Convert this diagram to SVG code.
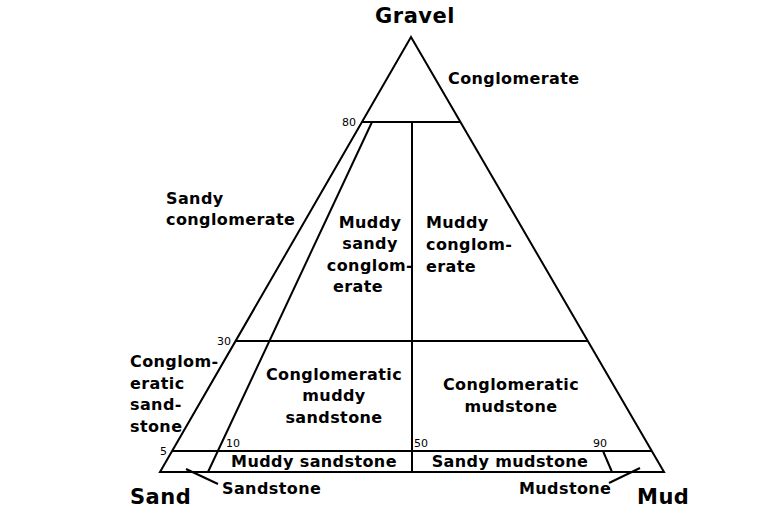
<svg xmlns="http://www.w3.org/2000/svg" width="768" height="511" viewBox="0 0 768 511">
<style>
.l{stroke:#000;stroke-width:2;fill:none}
.t{font-family:Verdana,"DejaVu Sans",sans-serif;font-weight:bold;font-size:16px;letter-spacing:0.4px;fill:#000}
.c{text-anchor:middle}
.n{font-family:Verdana,"DejaVu Sans",sans-serif;font-size:11px;fill:#000}
.b{font-family:Verdana,"DejaVu Sans",sans-serif;font-weight:bold;font-size:21px;letter-spacing:0.5px;fill:#000}
</style>
<rect width="768" height="511" fill="#fff"/>
<g id="connectors">
<polygon class="l" points="411,37 160,472 664,472"/>
<line class="l" x1="362" y1="122" x2="460" y2="122"/>
<line class="l" x1="235" y1="341" x2="588" y2="341"/>
<line class="l" x1="172" y1="451" x2="652" y2="451"/>
<line class="l" x1="372" y1="122" x2="208" y2="472"/>
<line class="l" x1="412" y1="122" x2="412" y2="472"/>
<line class="l" x1="603" y1="451" x2="612" y2="472"/>
<line class="l" x1="186" y1="469" x2="218" y2="484"/>
<line class="l" x1="609" y1="483" x2="640" y2="468"/>
</g>
<g id="labels">
<text class="b" x="415" y="23" text-anchor="middle">Gravel</text>
<text class="b" x="130" y="504">Sand</text>
<text class="b" x="637" y="504">Mud</text>
<text class="n" x="342" y="126">80</text>
<text class="n" x="217" y="345">30</text>
<text class="n" x="160" y="455">5</text>
<text class="n" x="226" y="447">10</text>
<text class="n" x="414" y="447">50</text>
<text class="n" x="593" y="447">90</text>
</g>
<g id="n-conglomerate"><text class="t" x="448" y="84">Conglomerate</text></g>
<g id="n-sandy-conglomerate"><text class="t" x="166" y="204">Sandy</text><text class="t" x="166" y="225">conglomerate</text></g>
<g id="n-muddy-sandy"><text class="t c" x="370" y="228">Muddy</text><text class="t c" x="370" y="249">sandy</text><text class="t c" x="370" y="271">conglom-</text><text class="t c" x="358" y="292">erate</text></g>
<g id="n-muddy-conglomerate"><text class="t" x="426" y="228">Muddy</text><text class="t" x="426" y="250">conglom-</text><text class="t" x="426" y="272">erate</text></g>
<g id="n-conglomeratic-sandstone-left"><text class="t" x="130" y="367">Conglom-</text><text class="t" x="130" y="389">eratic</text><text class="t" x="130" y="410">sand-</text><text class="t" x="130" y="432">stone</text></g>
<g id="n-conglomeratic-muddy-sandstone"><text class="t c" x="334" y="380">Conglomeratic</text><text class="t c" x="334" y="401">muddy</text><text class="t c" x="334" y="423">sandstone</text></g>
<g id="n-conglomeratic-mudstone"><text class="t c" x="511" y="390">Conglomeratic</text><text class="t c" x="511" y="412">mudstone</text></g>
<g id="n-muddy-sandstone"><text class="t c" x="314" y="467">Muddy sandstone</text></g>
<g id="n-sandy-mudstone"><text class="t c" x="510" y="467">Sandy mudstone</text></g>
<g id="n-sandstone"><text class="t" x="222" y="494">Sandstone</text></g>
<g id="n-mudstone"><text class="t" x="519" y="494">Mudstone</text></g>
</svg>
